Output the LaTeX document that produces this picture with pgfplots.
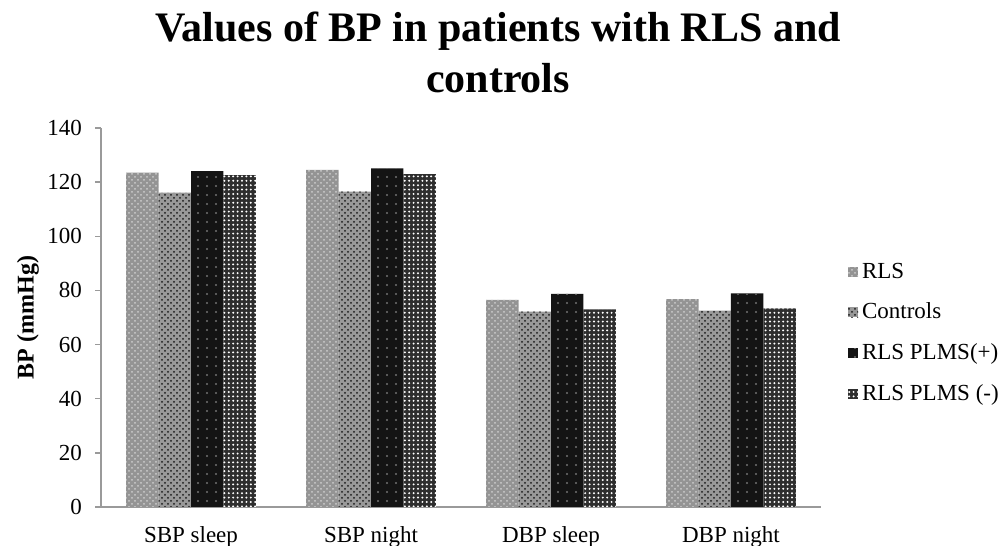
\documentclass[border=0pt]{standalone}
\usepackage{pgfplots}
\pgfplotsset{compat=1.18}
\usepackage{fontspec}
\setmainfont{Liberation Serif}
\usetikzlibrary{patterns,patterns.meta}
\definecolor{axgray}{HTML}{9A9A9A}
\begin{document}
\begin{tikzpicture}
\useasboundingbox (0,0) rectangle (501.5pt,273pt);
\node[font=\bfseries\fontsize{21}{25}\selectfont, anchor=base] at (249pt,252pt) {Values of BP in patients with RLS and};
\node[font=\bfseries\fontsize{21}{25}\selectfont, anchor=base] at (249pt,226.5pt) {controls};
\begin{axis}[
  at={(50.5pt,19.5pt)}, anchor=south west,
  scale only axis, width=360pt, height=189.5pt,
  ybar=0pt, bar width=0.18,
  xmin=-0.5, xmax=3.5, ymin=0, ymax=140,
  ytick={0,20,...,140},
  xtick={0,1,2,3},
  xticklabels={SBP sleep, SBP night, DBP sleep, DBP night},
  major x tick style={draw=none},
  extra x ticks={-0.5,0.5,1.5,2.5,3.5},
  extra x tick labels={},
  extra x tick style={major tick length=4pt, tick style={draw=axgray, line width=0.75pt}},
  axis x line*=bottom, axis y line*=left,
  axis line style={draw=axgray, line width=0.75pt},
  x axis line style={-}, y axis line style={-},
  ytick style={draw=axgray, line width=0.75pt},
  tick align=outside, major tick length=3pt,
  /pgf/number format/assume math mode=true,
  tick label style={font=\fontsize{11.5}{13}\selectfont},
  yticklabel style={xshift=-3pt},
  xticklabel style={yshift=-3pt},
  ylabel={BP (mmHg)},
  every axis y label/.style={at={(axis description cs:-0.1014,0.5)}, rotate=90, anchor=center, font=\bfseries\fontsize{12}{14}\selectfont},
  legend style={at={(axis description cs:1.037,0.655)}, anchor=north west, draw=none, fill=none,
    font=\fontsize{11.5}{13}\selectfont, row sep=6.8pt, inner sep=0pt},
  legend cell align=left,
  legend image code/.code={\fill[#1] (0pt,-2.5pt) rectangle (5pt,2.5pt);},
]
\addplot[draw=none, fill=black!42, postaction={pattern=crosshatch dots, pattern color=black!20}]
  coordinates {(0,123.5) (1,124.5) (2,76.5) (3,76.8)};
\addplot[draw=none, fill=black!40, postaction={pattern=crosshatch dots, pattern color=black!90}]
  coordinates {(0,116.1) (1,116.5) (2,72.2) (3,72.5)};
\addplot[draw=none, fill=black!92, postaction={pattern={Dots[distance=4.5pt, radius=0.6pt]}, pattern color=black!55}]
  coordinates {(0,124.1) (1,125.1) (2,78.7) (3,78.9)};
\addplot[draw=none, fill=black!82, postaction={pattern={Dots[distance=2.2pt, radius=0.55pt]}, pattern color=white}]
  coordinates {(0,122.6) (1,123.0) (2,73.0) (3,73.4)};
\legend{RLS, Controls, RLS PLMS(+), RLS PLMS (-)}
\end{axis}
\end{tikzpicture}
\end{document}
